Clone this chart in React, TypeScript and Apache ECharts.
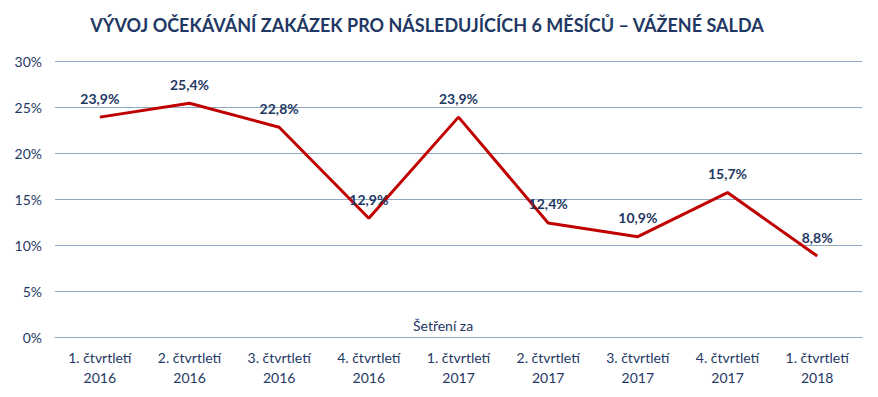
import React, { useEffect, useRef } from "react";
import * as echarts from "echarts";

const categories = [
  "1. čtvrtletí\n2016",
  "2. čtvrtletí\n2016",
  "3. čtvrtletí\n2016",
  "4. čtvrtletí\n2016",
  "1. čtvrtletí\n2017",
  "2. čtvrtletí\n2017",
  "3. čtvrtletí\n2017",
  "4. čtvrtletí\n2017",
  "1. čtvrtletí\n2018",
];
const values = [23.9, 25.4, 22.8, 12.9, 23.9, 12.4, 10.9, 15.7, 8.8];
const title = "VÝVOJ OČEKÁVÁNÍ ZAKÁZEK PRO NÁSLEDUJÍCÍCH 6 MĚSÍCŮ – VÁŽENÉ SALDA";
const axisName = "Šetření za";

const FONT = "Lato, 'Open Sans', sans-serif";
const NAVY = "#1F3864";

export default function App() {
  const ref = useRef<HTMLDivElement>(null);
  useEffect(() => {
    if (!ref.current) return;
    const chart = echarts.init(ref.current, undefined, { renderer: "svg" });
    chart.setOption({
      animation: false,
      backgroundColor: "#ffffff",
      title: {
        text: title,
        left: 422,
        top: 11,
        textAlign: "center",
        textStyle: {
          color: NAVY,
          fontSize: 18,
          fontWeight: "bold",
          fontFamily: FONT,
        },
      },
      graphic: [
        {
          type: "text",
          left: 413,
          top: 318,
          style: { text: axisName, fill: NAVY, fontSize: 14, fontFamily: FONT },
        },
      ],
      grid: { left: 55, right: 16, top: 61, bottom: 60, containLabel: false },
      xAxis: {
        type: "category",
        data: categories,
        boundaryGap: true,
        axisLine: { show: true, lineStyle: { color: "#8EA9C1", width: 1 } },
        axisTick: { show: false },
        axisLabel: {
          color: NAVY,
          fontSize: 14,
          fontFamily: FONT,
          lineHeight: 20,
          margin: 10,
          interval: 0,
        },
      },
      yAxis: {
        type: "value",
        min: 0,
        max: 30,
        interval: 5,
        axisLabel: {
          formatter: (v: number) => `${v}%`,
          color: NAVY,
          fontSize: 14,
          fontFamily: FONT,
          margin: 13,
        },
        axisLine: { show: false },
        axisTick: { show: false },
        splitLine: { lineStyle: { color: "#8EA9C1", width: 1 } },
      },
      series: [
        {
          type: "line",
          data: values,
          symbol: "circle",
          symbolSize: 2,
          showSymbol: true,
          itemStyle: { color: "rgba(192,0,0,0)", borderWidth: 0 },
          lineStyle: { color: "#C00000", width: 3 },
          label: {
            show: true,
            position: "top",
            distance: 11,
            formatter: (p: any) => `${Number(p.value).toFixed(1).replace(".", ",")}%`,
            color: NAVY,
            fontSize: 14,
            fontWeight: "bold",
            fontFamily: FONT,
          },
        },
      ],
    });
    return () => chart.dispose();
  }, []);
  return (
    <div
      ref={ref}
      style={{ position: "fixed", left: 0, top: 0, width: 878, height: 397 }}
    />
  );
}
